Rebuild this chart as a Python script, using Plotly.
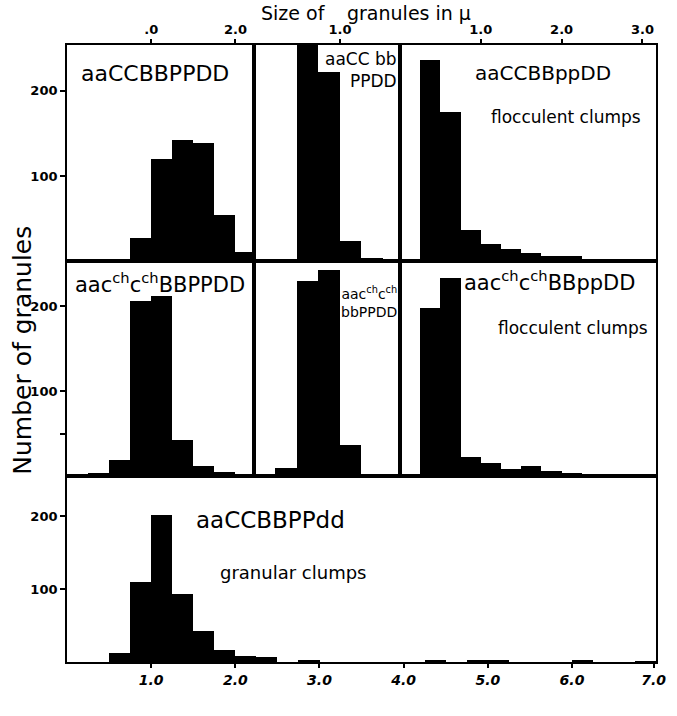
import plotly.graph_objects as go

W, H = 677, 716
BIN = 0.25

# ---- data: bin lower edges (size of granules, micra) and counts ----
r1c1_start = [0.75, 1.0, 1.25, 1.5, 1.75, 2.0]
r1c1_count = [27, 120, 142, 139, 54, 11]

r1c2_start = [0.5, 0.75, 1.0, 1.25]
r1c2_count = [270, 222, 24, 3]

r1c3_start = [0.25, 0.5, 0.75, 1.0, 1.25, 1.5, 1.75, 2.0, 2.25, 2.5, 2.75]
r1c3_count = [236, 175, 37, 20, 14, 10, 6, 6, 0, 2, 2]

r2c1_start = [0.25, 0.5, 0.75, 1.0, 1.25, 1.5, 1.75, 2.0]
r2c1_count = [4, 19, 206, 212, 42, 12, 5, 1]

r2c2_start = [0.25, 0.5, 0.75, 1.0, 1.25]
r2c2_count = [10, 230, 242, 37, 2]

r2c3_start = [0.25, 0.5, 0.75, 1.0, 1.25, 1.5, 1.75, 2.0, 2.25, 2.5, 2.75]
r2c3_count = [198, 233, 22, 15, 8, 12, 6, 4, 1, 1, 1]

r3_start = [0.5, 0.75, 1.0, 1.25, 1.5, 1.75, 2.0, 2.25, 2.75, 4.25, 4.75, 5.0, 6.0, 6.75]
r3_count = [13, 110, 202, 93, 42, 17, 8, 7, 3, 2, 3, 3, 2, 1]

# tick labels
top_c1_vals, top_c1_text = [1.0, 2.0], [".0", "2.0"]
top_c2_vals, top_c2_text = [1.0], ["1.0"]
top_c3_vals, top_c3_text = [1.0, 2.0, 3.0], ["1.0", "2.0", "3.0"]
bot_vals = [1, 2, 3, 4, 5, 6, 6.97]
bot_text = ["1.0", "2.0", "3.0", "4.0", "5.0", "6.0", "7.0"]
y_vals, y_text = [100, 200], ["100", "200"]
y_minor = [50]

FONT = "DejaVu Sans"
LW = 1.8


def px(x):
    return x / W


def py(y):
    return 1 - y / H


panels = [
    # (start, count, xdomain px, ydomain px, xrange, yrange)
    (r1c1_start, r1c1_count, (68, 258), (45, 261), [0, 2.222], [0, 254]),
    (r1c2_start, r1c2_count, (258, 406), (45, 261), [0, 1.70], [0, 254]),
    (r1c3_start, r1c3_count, (406, 666), (45, 261), [0, 3.17], [0, 254]),
    (r2c1_start, r2c1_count, (68, 258), (261, 476), [0, 2.222], [0, 253]),
    (r2c2_start, r2c2_count, (258, 406), (261, 476), [0, 1.70], [0, 253]),
    (r2c3_start, r2c3_count, (406, 666), (261, 476), [0, 3.17], [0, 253]),
    (r3_start, r3_count, (68, 666), (476, 662), [0, 7.0], [0, 255]),
]

fig = go.Figure()
layout = {}
for i, (st, ct, xd, yd, xr, yr) in enumerate(panels):
    n = "" if i == 0 else str(i + 1)
    fig.add_trace(go.Bar(
        x=[s + BIN / 2 for s in st], y=ct, width=BIN,
        marker=dict(color="black", line=dict(width=0)),
        xaxis="x" + n, yaxis="y" + n, showlegend=False, hoverinfo="x+y"))
    xa = dict(domain=[px(xd[0]), px(xd[1])], range=xr, anchor="y" + n,
              showgrid=False, zeroline=False, showline=True, mirror=True,
              linecolor="black", linewidth=LW, ticks="", showticklabels=False,
              fixedrange=True)
    ya = dict(domain=[py(yd[1]), py(yd[0])], range=yr, anchor="x" + n,
              showgrid=False, zeroline=False, showline=True, mirror=True,
              linecolor="black", linewidth=LW, ticks="", showticklabels=False,
              fixedrange=True)
    tf = dict(family=FONT, size=13, color="black", weight="bold")
    if i in (0, 1, 2):
        vals, txt = [(top_c1_vals, top_c1_text), (top_c2_vals, top_c2_text),
                     (top_c3_vals, top_c3_text)][i]
        xa.update(side="top", tickvals=vals, ticktext=txt, ticks="outside",
                  ticklen=4, tickwidth=2, tickcolor="black",
                  showticklabels=True, tickfont=tf)
    if i == 6:
        xa.update(tickvals=bot_vals, ticktext=bot_text, ticks="outside",
                  ticklen=4, tickwidth=2, tickcolor="black",
                  showticklabels=True,
                  tickfont=dict(family=FONT, size=14, color="black",
                                weight="bold", style="italic"))
    if i in (0, 3, 6):
        ya.update(tickvals=y_vals, ticktext=y_text, ticks="outside", ticklen=5,
                  tickwidth=2, tickcolor="black", showticklabels=True, tickfont=tf)
    if i == 3:
        ya.update(minor=dict(tickvals=y_minor, ticks="outside", ticklen=5,
                             tickwidth=2, tickcolor="black"))
    layout["xaxis" + n] = xa
    layout["yaxis" + n] = ya

fig.update_layout(**layout)


def ann(text, x, y, size, xanchor="center", align="center", angle=0):
    return dict(text=text, x=px(x), y=py(y), xref="paper", yref="paper",
                xanchor=xanchor, yanchor="middle", align=align, showarrow=False,
                textangle=angle,
                font=dict(family=FONT, size=size, color="black"))


anns = [
    ann("Size of", 333, 13, 19, xanchor="right"),
    ann("granules in µ", 350, 13, 19, xanchor="left"),
    ann("Number of granules", 22, 350, 25, angle=-90),
    ann("aaCCBBPPDD", 157, 73, 22),
    ann("aaCC bb<br>PPDD", 405, 70, 17, xanchor="right", align="right"),
    ann("aaCCBBppDD", 551, 73, 20),
    ann("flocculent clumps", 574, 117, 17),
    ann("aac<sup>ch</sup>c<sup>ch</sup>BBPPDD", 162, 283, 21),
    ann("aac<sup>ch</sup>c<sup>ch</sup><br>bbPPDD", 405, 302, 14,
        xanchor="right", align="right"),
    ann("aac<sup>ch</sup>c<sup>ch</sup>BBppDD", 558, 281, 21),
    ann("flocculent clumps", 582, 328, 17),
    ann("aaCCBBPPdd", 275, 520, 23),
    ann("granular clumps", 297, 572, 18),
]

fig.update_layout(
    width=W, height=H, margin=dict(l=0, r=0, t=0, b=0),
    paper_bgcolor="white", plot_bgcolor="white",
    bargap=0, annotations=anns,
    font=dict(family=FONT, color="black"),
)

fig.write_html("out.html",
               config={"displayModeBar": False},
               post_script="document.body.style.margin='0';")
